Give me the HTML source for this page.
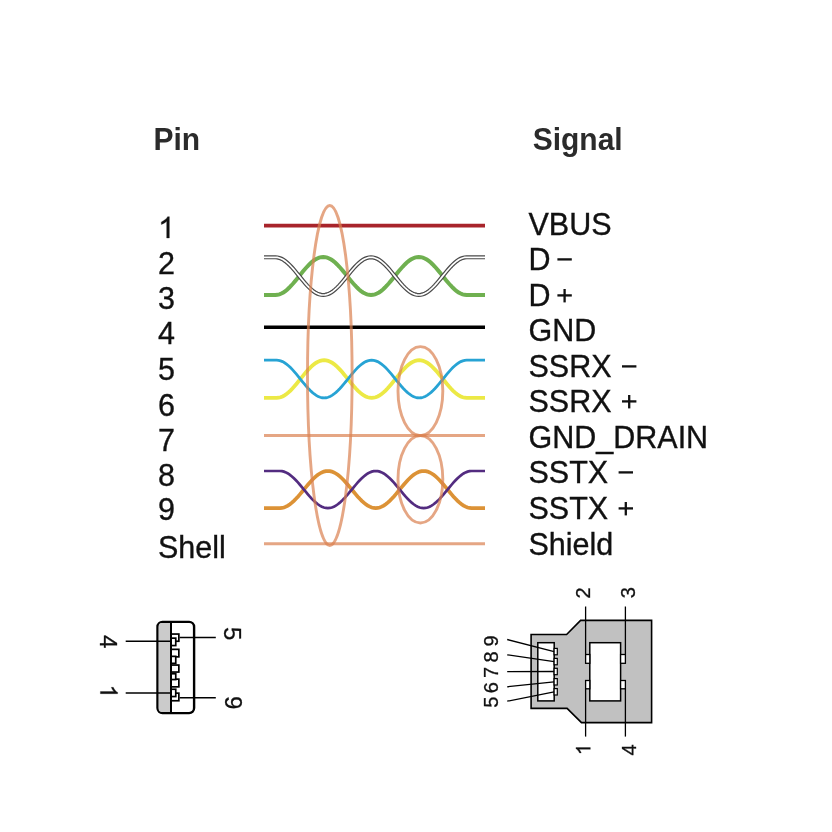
<!DOCTYPE html>
<html><head><meta charset="utf-8"><style>
html,body{margin:0;padding:0;background:#fff;width:832px;height:832px;overflow:hidden}
svg{display:block;font-family:"Liberation Sans",sans-serif;will-change:transform}
</style></head><body>
<svg width="832" height="832" viewBox="0 0 832 832">
<text transform="translate(153.5 149.5) scale(1 1.04)" font-size="30" font-weight="bold" fill="#2b2b2b">Pin</text>
<text transform="translate(532.7 149.5) scale(1 1.04)" font-size="30" font-weight="bold" fill="#2b2b2b">Signal</text>
<path transform="translate(158 238) scale(0.01489 -0.01452)" d="M763 0L583 0L583 1147C540 1106 483 1064 413 1023C343 982 280 951 223 930L223 1104C323 1151 411 1208 486 1276C561 1343 614 1409 645 1472L763 1472Z" fill="#111" stroke="#111" stroke-width="20.1"/>
<text transform="translate(158 274) scale(1 1.0)" font-size="30.5" fill="#111" stroke="#111" stroke-width="0.35">2</text>
<text transform="translate(158 309) scale(1 1.0)" font-size="30.5" fill="#111" stroke="#111" stroke-width="0.35">3</text>
<text transform="translate(158 344) scale(1 1.0)" font-size="30.5" fill="#111" stroke="#111" stroke-width="0.35">4</text>
<text transform="translate(158 380) scale(1 1.0)" font-size="30.5" fill="#111" stroke="#111" stroke-width="0.35">5</text>
<text transform="translate(158 416) scale(1 1.0)" font-size="30.5" fill="#111" stroke="#111" stroke-width="0.35">6</text>
<text transform="translate(158 451) scale(1 1.0)" font-size="30.5" fill="#111" stroke="#111" stroke-width="0.35">7</text>
<text transform="translate(158 486) scale(1 1.0)" font-size="30.5" fill="#111" stroke="#111" stroke-width="0.35">8</text>
<text transform="translate(158 520) scale(1 1.0)" font-size="30.5" fill="#111" stroke="#111" stroke-width="0.35">9</text>
<text transform="translate(158 558) scale(1 1.0)" font-size="30.5" fill="#111" stroke="#111" stroke-width="0.35">Shell</text>
<text transform="translate(528.5 235) scale(1 1.0)" font-size="30.5" fill="#111" stroke="#111" stroke-width="0.35">VBUS</text>
<text transform="translate(528.5 270) scale(1 1.0)" font-size="30.5" fill="#111" stroke="#111" stroke-width="0.35">D</text>
<text transform="translate(528.5 306) scale(1 1.0)" font-size="30.5" fill="#111" stroke="#111" stroke-width="0.35">D</text>
<text transform="translate(528.5 341) scale(1 1.0)" font-size="30.5" fill="#111" stroke="#111" stroke-width="0.35">GND</text>
<text transform="translate(528.5 377) scale(1 1.0)" font-size="30.5" fill="#111" stroke="#111" stroke-width="0.35">SSRX</text>
<text transform="translate(528.5 412) scale(1 1.0)" font-size="30.5" fill="#111" stroke="#111" stroke-width="0.35">SSRX</text>
<text transform="translate(528.5 448) scale(1 1.0)" font-size="30.5" fill="#111" stroke="#111" stroke-width="0.35">GND_DRAIN</text>
<text transform="translate(528.5 483) scale(1 1.0)" font-size="30.5" fill="#111" stroke="#111" stroke-width="0.35">SSTX</text>
<text transform="translate(528.5 519) scale(1 1.0)" font-size="30.5" fill="#111" stroke="#111" stroke-width="0.35">SSTX</text>
<text transform="translate(528.5 555) scale(1 1.0)" font-size="30.5" fill="#111" stroke="#111" stroke-width="0.35">Shield</text>
<rect x="557.4" y="258.25" width="14.4" height="2.3" fill="#111"/>
<rect x="557.4" y="294.25" width="14.4" height="2.3" fill="#111"/>
<rect x="563.45" y="289.00" width="2.3" height="13.4" fill="#111"/>
<rect x="622" y="365.25" width="14.4" height="2.3" fill="#111"/>
<rect x="622" y="400.25" width="14.4" height="2.3" fill="#111"/>
<rect x="628.05" y="395.00" width="2.3" height="13.4" fill="#111"/>
<rect x="618.6" y="471.25" width="14.4" height="2.3" fill="#111"/>
<rect x="618.6" y="507.25" width="14.4" height="2.3" fill="#111"/>
<rect x="624.65" y="502.00" width="2.3" height="13.4" fill="#111"/>
<line x1="264" y1="225.7" x2="485" y2="225.7" stroke="#a8242b" stroke-width="3.7"/>
<path d="M264.00,295.00 L275.40,295.00 L277.39,294.84 L279.38,294.35 L281.38,293.55 L283.37,292.45 L285.36,291.07 L287.35,289.44 L289.34,287.57 L291.33,285.50 L293.32,283.27 L295.32,280.92 L297.31,278.48 L299.30,276.00 L301.29,273.52 L303.28,271.08 L305.27,268.73 L307.27,266.50 L309.26,264.43 L311.25,262.56 L313.24,260.93 L315.23,259.55 L317.22,258.45 L319.22,257.65 L321.21,257.16 L323.20,257.00 L325.19,257.16 L327.18,257.65 L329.17,258.45 L331.17,259.55 L333.16,260.93 L335.15,262.56 L337.14,264.43 L339.13,266.50 L341.12,268.73 L343.12,271.08 L345.11,273.52 L347.10,276.00 L349.09,278.48 L351.08,280.92 L353.07,283.27 L355.07,285.50 L357.06,287.57 L359.05,289.44 L361.04,291.07 L363.03,292.45 L365.02,293.55 L367.02,294.35 L369.01,294.84 L371.00,295.00 L372.99,294.84 L374.98,294.35 L376.97,293.55 L378.97,292.45 L380.96,291.07 L382.95,289.44 L384.94,287.57 L386.93,285.50 L388.92,283.27 L390.92,280.92 L392.91,278.48 L394.90,276.00 L396.89,273.52 L398.88,271.08 L400.87,268.73 L402.87,266.50 L404.86,264.43 L406.85,262.56 L408.84,260.93 L410.83,259.55 L412.82,258.45 L414.82,257.65 L416.81,257.16 L418.80,257.00 L420.79,257.16 L422.78,257.65 L424.77,258.45 L426.77,259.55 L428.76,260.93 L430.75,262.56 L432.74,264.43 L434.73,266.50 L436.72,268.73 L438.72,271.08 L440.71,273.52 L442.70,276.00 L444.69,278.48 L446.68,280.92 L448.67,283.27 L450.67,285.50 L452.66,287.57 L454.65,289.44 L456.64,291.07 L458.63,292.45 L460.62,293.55 L462.62,294.35 L464.61,294.84 L466.60,295.00 L485.00,295.00" fill="none" stroke="#6fb050" stroke-width="4"/>
<path d="M264.00,257.30 L275.40,257.30 L277.39,257.46 L279.38,257.94 L281.38,258.73 L283.37,259.83 L285.36,261.20 L287.35,262.82 L289.34,264.67 L291.33,266.72 L293.32,268.94 L295.32,271.27 L297.31,273.69 L299.30,276.15 L301.29,278.61 L303.28,281.03 L305.27,283.36 L307.27,285.57 L309.26,287.63 L311.25,289.48 L313.24,291.10 L315.23,292.47 L317.22,293.57 L319.22,294.36 L321.21,294.84 L323.20,295.00 L325.19,294.84 L327.18,294.36 L329.17,293.57 L331.17,292.47 L333.16,291.10 L335.15,289.48 L337.14,287.63 L339.13,285.57 L341.12,283.36 L343.12,281.03 L345.11,278.61 L347.10,276.15 L349.09,273.69 L351.08,271.27 L353.07,268.94 L355.07,266.72 L357.06,264.67 L359.05,262.82 L361.04,261.20 L363.03,259.83 L365.02,258.73 L367.02,257.94 L369.01,257.46 L371.00,257.30 L372.99,257.46 L374.98,257.94 L376.97,258.73 L378.97,259.83 L380.96,261.20 L382.95,262.82 L384.94,264.67 L386.93,266.72 L388.92,268.94 L390.92,271.27 L392.91,273.69 L394.90,276.15 L396.89,278.61 L398.88,281.03 L400.87,283.36 L402.87,285.57 L404.86,287.63 L406.85,289.48 L408.84,291.10 L410.83,292.47 L412.82,293.57 L414.82,294.36 L416.81,294.84 L418.80,295.00 L420.79,294.84 L422.78,294.36 L424.77,293.57 L426.77,292.47 L428.76,291.10 L430.75,289.48 L432.74,287.63 L434.73,285.57 L436.72,283.36 L438.72,281.03 L440.71,278.61 L442.70,276.15 L444.69,273.69 L446.68,271.27 L448.67,268.94 L450.67,266.73 L452.66,264.67 L454.65,262.82 L456.64,261.20 L458.63,259.83 L460.62,258.73 L462.62,257.94 L464.61,257.46 L466.60,257.30 L485.00,257.30" fill="none" stroke="#4a4a4a" stroke-width="4.1"/>
<path d="M264.00,257.30 L275.40,257.30 L277.39,257.46 L279.38,257.94 L281.38,258.73 L283.37,259.83 L285.36,261.20 L287.35,262.82 L289.34,264.67 L291.33,266.72 L293.32,268.94 L295.32,271.27 L297.31,273.69 L299.30,276.15 L301.29,278.61 L303.28,281.03 L305.27,283.36 L307.27,285.57 L309.26,287.63 L311.25,289.48 L313.24,291.10 L315.23,292.47 L317.22,293.57 L319.22,294.36 L321.21,294.84 L323.20,295.00 L325.19,294.84 L327.18,294.36 L329.17,293.57 L331.17,292.47 L333.16,291.10 L335.15,289.48 L337.14,287.63 L339.13,285.57 L341.12,283.36 L343.12,281.03 L345.11,278.61 L347.10,276.15 L349.09,273.69 L351.08,271.27 L353.07,268.94 L355.07,266.72 L357.06,264.67 L359.05,262.82 L361.04,261.20 L363.03,259.83 L365.02,258.73 L367.02,257.94 L369.01,257.46 L371.00,257.30 L372.99,257.46 L374.98,257.94 L376.97,258.73 L378.97,259.83 L380.96,261.20 L382.95,262.82 L384.94,264.67 L386.93,266.72 L388.92,268.94 L390.92,271.27 L392.91,273.69 L394.90,276.15 L396.89,278.61 L398.88,281.03 L400.87,283.36 L402.87,285.57 L404.86,287.63 L406.85,289.48 L408.84,291.10 L410.83,292.47 L412.82,293.57 L414.82,294.36 L416.81,294.84 L418.80,295.00 L420.79,294.84 L422.78,294.36 L424.77,293.57 L426.77,292.47 L428.76,291.10 L430.75,289.48 L432.74,287.63 L434.73,285.57 L436.72,283.36 L438.72,281.03 L440.71,278.61 L442.70,276.15 L444.69,273.69 L446.68,271.27 L448.67,268.94 L450.67,266.73 L452.66,264.67 L454.65,262.82 L456.64,261.20 L458.63,259.83 L460.62,258.73 L462.62,257.94 L464.61,257.46 L466.60,257.30 L485.00,257.30" fill="none" stroke="#fff" stroke-width="1.7"/>
<line x1="264" y1="327.2" x2="485" y2="327.2" stroke="#000" stroke-width="3.6"/>
<path d="M264.00,397.90 L276.60,397.90 L278.58,397.74 L280.56,397.26 L282.54,396.47 L284.52,395.37 L286.50,394.00 L288.48,392.38 L290.46,390.53 L292.44,388.47 L294.42,386.26 L296.40,383.93 L298.38,381.51 L300.37,379.05 L302.35,376.59 L304.33,374.17 L306.31,371.84 L308.29,369.62 L310.27,367.57 L312.25,365.72 L314.23,364.10 L316.21,362.73 L318.19,361.63 L320.17,360.84 L322.15,360.36 L324.13,360.20 L326.11,360.36 L328.09,360.84 L330.07,361.63 L332.05,362.73 L334.03,364.10 L336.01,365.72 L337.99,367.57 L339.97,369.62 L341.95,371.84 L343.93,374.17 L345.91,376.59 L347.90,379.05 L349.88,381.51 L351.86,383.93 L353.84,386.26 L355.82,388.47 L357.80,390.53 L359.78,392.38 L361.76,394.00 L363.74,395.37 L365.72,396.47 L367.70,397.26 L369.68,397.74 L371.66,397.90 L373.64,397.74 L375.62,397.26 L377.60,396.47 L379.58,395.37 L381.56,394.00 L383.54,392.38 L385.52,390.53 L387.50,388.47 L389.48,386.26 L391.46,383.93 L393.44,381.51 L395.43,379.05 L397.41,376.59 L399.39,374.17 L401.37,371.84 L403.35,369.62 L405.33,367.57 L407.31,365.72 L409.29,364.10 L411.27,362.73 L413.25,361.63 L415.23,360.84 L417.21,360.36 L419.19,360.20 L421.17,360.36 L423.15,360.84 L425.13,361.63 L427.11,362.73 L429.09,364.10 L431.07,365.72 L433.05,367.57 L435.03,369.62 L437.01,371.84 L438.99,374.17 L440.97,376.59 L442.96,379.05 L444.94,381.51 L446.92,383.93 L448.90,386.26 L450.88,388.47 L452.86,390.53 L454.84,392.38 L456.82,394.00 L458.80,395.37 L460.78,396.47 L462.76,397.26 L464.74,397.74 L466.72,397.90 L485.00,397.90" fill="none" stroke="#ece945" stroke-width="3.8"/>
<path d="M264.00,360.20 L276.60,360.20 L278.58,360.36 L280.56,360.84 L282.54,361.63 L284.52,362.73 L286.50,364.10 L288.48,365.72 L290.46,367.57 L292.44,369.62 L294.42,371.84 L296.40,374.17 L298.38,376.59 L300.37,379.05 L302.35,381.51 L304.33,383.93 L306.31,386.26 L308.29,388.47 L310.27,390.53 L312.25,392.38 L314.23,394.00 L316.21,395.37 L318.19,396.47 L320.17,397.26 L322.15,397.74 L324.13,397.90 L326.11,397.74 L328.09,397.26 L330.07,396.47 L332.05,395.37 L334.03,394.00 L336.01,392.38 L337.99,390.53 L339.97,388.47 L341.95,386.26 L343.93,383.93 L345.91,381.51 L347.90,379.05 L349.88,376.59 L351.86,374.17 L353.84,371.84 L355.82,369.62 L357.80,367.57 L359.78,365.72 L361.76,364.10 L363.74,362.73 L365.72,361.63 L367.70,360.84 L369.68,360.36 L371.66,360.20 L373.64,360.36 L375.62,360.84 L377.60,361.63 L379.58,362.73 L381.56,364.10 L383.54,365.72 L385.52,367.57 L387.50,369.62 L389.48,371.84 L391.46,374.17 L393.44,376.59 L395.43,379.05 L397.41,381.51 L399.39,383.93 L401.37,386.26 L403.35,388.47 L405.33,390.53 L407.31,392.38 L409.29,394.00 L411.27,395.37 L413.25,396.47 L415.23,397.26 L417.21,397.74 L419.19,397.90 L421.17,397.74 L423.15,397.26 L425.13,396.47 L427.11,395.37 L429.09,394.00 L431.07,392.38 L433.05,390.53 L435.03,388.47 L437.01,386.26 L438.99,383.93 L440.97,381.51 L442.96,379.05 L444.94,376.59 L446.92,374.17 L448.90,371.84 L450.88,369.62 L452.86,367.57 L454.84,365.72 L456.82,364.10 L458.80,362.73 L460.78,361.63 L462.76,360.84 L464.74,360.36 L466.72,360.20 L485.00,360.20" fill="none" stroke="#27a3d4" stroke-width="2.8"/>
<line x1="264" y1="435.5" x2="485" y2="435.5" stroke="#da8050" stroke-opacity="0.7" stroke-width="2.9"/>
<path d="M264.00,508.10 L279.95,508.10 L281.95,507.94 L283.94,507.47 L285.94,506.69 L287.93,505.61 L289.93,504.27 L291.93,502.67 L293.92,500.84 L295.92,498.83 L297.91,496.65 L299.91,494.35 L301.90,491.97 L303.90,489.55 L305.90,487.13 L307.89,484.75 L309.89,482.45 L311.88,480.27 L313.88,478.26 L315.88,476.43 L317.87,474.83 L319.87,473.49 L321.86,472.41 L323.86,471.63 L325.85,471.16 L327.85,471.00 L329.85,471.16 L331.84,471.63 L333.84,472.41 L335.83,473.49 L337.83,474.83 L339.82,476.43 L341.82,478.26 L343.82,480.28 L345.81,482.45 L347.81,484.75 L349.80,487.13 L351.80,489.55 L353.80,491.97 L355.79,494.35 L357.79,496.65 L359.78,498.82 L361.78,500.84 L363.77,502.67 L365.77,504.27 L367.77,505.61 L369.76,506.69 L371.76,507.47 L373.75,507.94 L375.75,508.10 L377.75,507.94 L379.74,507.47 L381.74,506.69 L383.73,505.61 L385.73,504.27 L387.72,502.67 L389.72,500.84 L391.72,498.83 L393.71,496.65 L395.71,494.35 L397.70,491.97 L399.70,489.55 L401.70,487.13 L403.69,484.75 L405.69,482.45 L407.68,480.28 L409.68,478.26 L411.67,476.43 L413.67,474.83 L415.67,473.49 L417.66,472.41 L419.66,471.63 L421.65,471.16 L423.65,471.00 L425.65,471.16 L427.64,471.63 L429.64,472.41 L431.63,473.49 L433.63,474.83 L435.62,476.43 L437.62,478.26 L439.62,480.27 L441.61,482.45 L443.61,484.75 L445.60,487.13 L447.60,489.55 L449.60,491.97 L451.59,494.35 L453.59,496.65 L455.58,498.82 L457.58,500.84 L459.57,502.67 L461.57,504.27 L463.57,505.61 L465.56,506.69 L467.56,507.47 L469.55,507.94 L471.55,508.10 L485.00,508.10" fill="none" stroke="#dc9236" stroke-width="3.7"/>
<path d="M264.00,471.00 L279.95,471.00 L281.95,471.16 L283.94,471.63 L285.94,472.41 L287.93,473.49 L289.93,474.83 L291.93,476.43 L293.92,478.26 L295.92,480.27 L297.91,482.45 L299.91,484.75 L301.90,487.13 L303.90,489.55 L305.90,491.97 L307.89,494.35 L309.89,496.65 L311.88,498.83 L313.88,500.84 L315.88,502.67 L317.87,504.27 L319.87,505.61 L321.86,506.69 L323.86,507.47 L325.85,507.94 L327.85,508.10 L329.85,507.94 L331.84,507.47 L333.84,506.69 L335.83,505.61 L337.83,504.27 L339.82,502.67 L341.82,500.84 L343.82,498.82 L345.81,496.65 L347.81,494.35 L349.80,491.97 L351.80,489.55 L353.80,487.13 L355.79,484.75 L357.79,482.45 L359.78,480.28 L361.78,478.26 L363.77,476.43 L365.77,474.83 L367.77,473.49 L369.76,472.41 L371.76,471.63 L373.75,471.16 L375.75,471.00 L377.75,471.16 L379.74,471.63 L381.74,472.41 L383.73,473.49 L385.73,474.83 L387.72,476.43 L389.72,478.26 L391.72,480.27 L393.71,482.45 L395.71,484.75 L397.70,487.13 L399.70,489.55 L401.70,491.97 L403.69,494.35 L405.69,496.65 L407.68,498.82 L409.68,500.84 L411.67,502.67 L413.67,504.27 L415.67,505.61 L417.66,506.69 L419.66,507.47 L421.65,507.94 L423.65,508.10 L425.65,507.94 L427.64,507.47 L429.64,506.69 L431.63,505.61 L433.63,504.27 L435.62,502.67 L437.62,500.84 L439.62,498.83 L441.61,496.65 L443.61,494.35 L445.60,491.97 L447.60,489.55 L449.60,487.13 L451.59,484.75 L453.59,482.45 L455.58,480.28 L457.58,478.26 L459.57,476.43 L461.57,474.83 L463.57,473.49 L465.56,472.41 L467.56,471.63 L469.55,471.16 L471.55,471.00 L485.00,471.00" fill="none" stroke="#532c80" stroke-width="2.7"/>
<line x1="264" y1="543.7" x2="485" y2="543.7" stroke="#da8050" stroke-opacity="0.7" stroke-width="3"/>
<g fill="none" stroke="#da8050" stroke-width="2.9" stroke-opacity="0.7">
<ellipse cx="329.8" cy="375.5" rx="22.3" ry="170"/>
<ellipse cx="420.4" cy="391.1" rx="22.4" ry="44.5"/>
<ellipse cx="420.4" cy="479.3" rx="22.4" ry="43.7"/>
</g>
<rect x="157.5" y="621.9" width="36.6" height="91.2" rx="5" fill="#fff" stroke="#000" stroke-width="2.4"/>
<path d="M158.7,626 Q158.7,623.1 162,623.1 L170,623.1 L170,711.9 L162,711.9 Q158.7,711.9 158.7,709 Z" fill="#cbcbcb"/>
<line x1="171" y1="622" x2="171" y2="713" stroke="#000" stroke-width="2"/>
<rect x="171" y="634.05" width="7.85" height="7.20" fill="#fff" stroke="#000" stroke-width="1.7"/>
<rect x="171" y="649.35" width="7.85" height="7.50" fill="#fff" stroke="#000" stroke-width="1.7"/>
<rect x="171" y="665.05" width="7.85" height="7.00" fill="#fff" stroke="#000" stroke-width="1.7"/>
<rect x="171" y="679.15" width="7.85" height="7.70" fill="#fff" stroke="#000" stroke-width="1.7"/>
<rect x="171" y="693.15" width="7.85" height="7.60" fill="#fff" stroke="#000" stroke-width="1.7"/>
<rect x="171" y="638.15" width="4.75" height="7.40" fill="#fff" stroke="#000" stroke-width="1.7"/>
<rect x="171" y="656.35" width="4.75" height="7.00" fill="#fff" stroke="#000" stroke-width="1.7"/>
<rect x="171" y="673.75" width="4.75" height="5.80" fill="#fff" stroke="#000" stroke-width="1.7"/>
<rect x="171" y="689.25" width="4.75" height="7.30" fill="#fff" stroke="#000" stroke-width="1.7"/>
<line x1="171" y1="622" x2="171" y2="713" stroke="#000" stroke-width="2"/>
<g stroke="#000" stroke-width="1.5">
<line x1="125.7" y1="641.3" x2="170" y2="641.3"/>
<line x1="125.7" y1="692.9" x2="170" y2="692.9"/>
<line x1="179.6" y1="637.6" x2="215.8" y2="637.6"/>
<line x1="179.6" y1="697.7" x2="215.8" y2="697.7"/>
</g>
<text x="108.7" y="641.6" font-size="24" fill="#111" stroke="#111" stroke-width="0.3" text-anchor="middle" dominant-baseline="central" transform="rotate(90 108.7 641.6)">4</text>
<path transform="rotate(90 108.7 691.4) translate(102.026171875 699.716) scale(0.01172 -0.01172)" d="M763 0L583 0L583 1147C540 1106 483 1064 413 1023C343 982 280 951 223 930L223 1104C323 1151 411 1208 486 1276C561 1343 614 1409 645 1472L763 1472Z" fill="#111" stroke="#111" stroke-width="25.6"/>
<text x="232.4" y="633.7" font-size="24" fill="#111" stroke="#111" stroke-width="0.3" text-anchor="middle" dominant-baseline="central" transform="rotate(90 232.4 633.7)">5</text>
<text x="233" y="702.7" font-size="24" fill="#111" stroke="#111" stroke-width="0.3" text-anchor="middle" dominant-baseline="central" transform="rotate(90 233 702.7)">9</text>
<path d="M531.1,634.5 L566.6,634.5 L580.6,620.4 L651.6,620.4 L651.6,722.6 L581.5,722.6 L567.1,708.4 L531.1,708.4 Z" fill="#c1c1c1" stroke="#000" stroke-width="1.6"/>
<rect x="537.8" y="642.7" width="16.4" height="58.2" fill="#fff" stroke="#000" stroke-width="1.5"/>
<rect x="589.8" y="642.7" width="30.8" height="58.2" fill="#fff" stroke="#000" stroke-width="1.5"/>
<rect x="554.1" y="648.4" width="3.2" height="6.4" fill="#fff" stroke="#000" stroke-width="1.2"/>
<rect x="554.1" y="658.4" width="3.2" height="6.4" fill="#fff" stroke="#000" stroke-width="1.2"/>
<rect x="554.1" y="668.3" width="3.2" height="6.4" fill="#fff" stroke="#000" stroke-width="1.2"/>
<rect x="554.1" y="678.6" width="3.2" height="6.4" fill="#fff" stroke="#000" stroke-width="1.2"/>
<rect x="554.1" y="688.6" width="3.2" height="6.4" fill="#fff" stroke="#000" stroke-width="1.2"/>
<rect x="585.6" y="654.5" width="4.2" height="8.8" fill="#fff" stroke="#000" stroke-width="1.3"/>
<rect x="585.6" y="680.5" width="4.2" height="8.3" fill="#fff" stroke="#000" stroke-width="1.3"/>
<rect x="620.6" y="654.5" width="4.8" height="8.8" fill="#fff" stroke="#000" stroke-width="1.3"/>
<rect x="620.6" y="680.5" width="4.8" height="8.3" fill="#fff" stroke="#000" stroke-width="1.3"/>
<g stroke="#000" stroke-width="1.3">
<line x1="585.6" y1="606.5" x2="585.6" y2="654.5"/>
<line x1="625.4" y1="606.5" x2="625.4" y2="654.5"/>
<line x1="585.6" y1="688.8" x2="585.6" y2="736.6"/>
<line x1="625.4" y1="688.8" x2="625.4" y2="736.6"/>
<line x1="507.2" y1="639.5" x2="554.1" y2="651.6"/>
<line x1="507.2" y1="654.8" x2="554.1" y2="661.6"/>
<line x1="507.2" y1="671.7" x2="554.1" y2="671.5"/>
<line x1="507.2" y1="686.8" x2="554.1" y2="681.8"/>
<line x1="507.2" y1="701.2" x2="554.1" y2="691.8"/>
</g>
<text x="490.7" y="641" font-size="20" fill="#111" stroke="#111" stroke-width="0.3" text-anchor="middle" dominant-baseline="central" transform="rotate(-90 490.7 641)">9</text>
<text x="490.7" y="656.9" font-size="20" fill="#111" stroke="#111" stroke-width="0.3" text-anchor="middle" dominant-baseline="central" transform="rotate(-90 490.7 656.9)">8</text>
<text x="490.7" y="672.3" font-size="20" fill="#111" stroke="#111" stroke-width="0.3" text-anchor="middle" dominant-baseline="central" transform="rotate(-90 490.7 672.3)">7</text>
<text x="490.7" y="687.7" font-size="20" fill="#111" stroke="#111" stroke-width="0.3" text-anchor="middle" dominant-baseline="central" transform="rotate(-90 490.7 687.7)">6</text>
<text x="490.7" y="702.1" font-size="20" fill="#111" stroke="#111" stroke-width="0.3" text-anchor="middle" dominant-baseline="central" transform="rotate(-90 490.7 702.1)">5</text>
<text x="583.3" y="593" font-size="20" fill="#111" stroke="#111" stroke-width="0.3" text-anchor="middle" dominant-baseline="central" transform="rotate(-90 583.3 593)">2</text>
<text x="628.5" y="592.6" font-size="20" fill="#111" stroke="#111" stroke-width="0.3" text-anchor="middle" dominant-baseline="central" transform="rotate(-90 628.5 592.6)">3</text>
<path transform="rotate(-90 583.4 749.5) translate(577.8384765625 756.43) scale(0.00977 -0.00977)" d="M763 0L583 0L583 1147C540 1106 483 1064 413 1023C343 982 280 951 223 930L223 1104C323 1151 411 1208 486 1276C561 1343 614 1409 645 1472L763 1472Z" fill="#111" stroke="#111" stroke-width="30.7"/>
<text x="628.5" y="750" font-size="20" fill="#111" stroke="#111" stroke-width="0.3" text-anchor="middle" dominant-baseline="central" transform="rotate(-90 628.5 750)">4</text>
</svg>
</body></html>
